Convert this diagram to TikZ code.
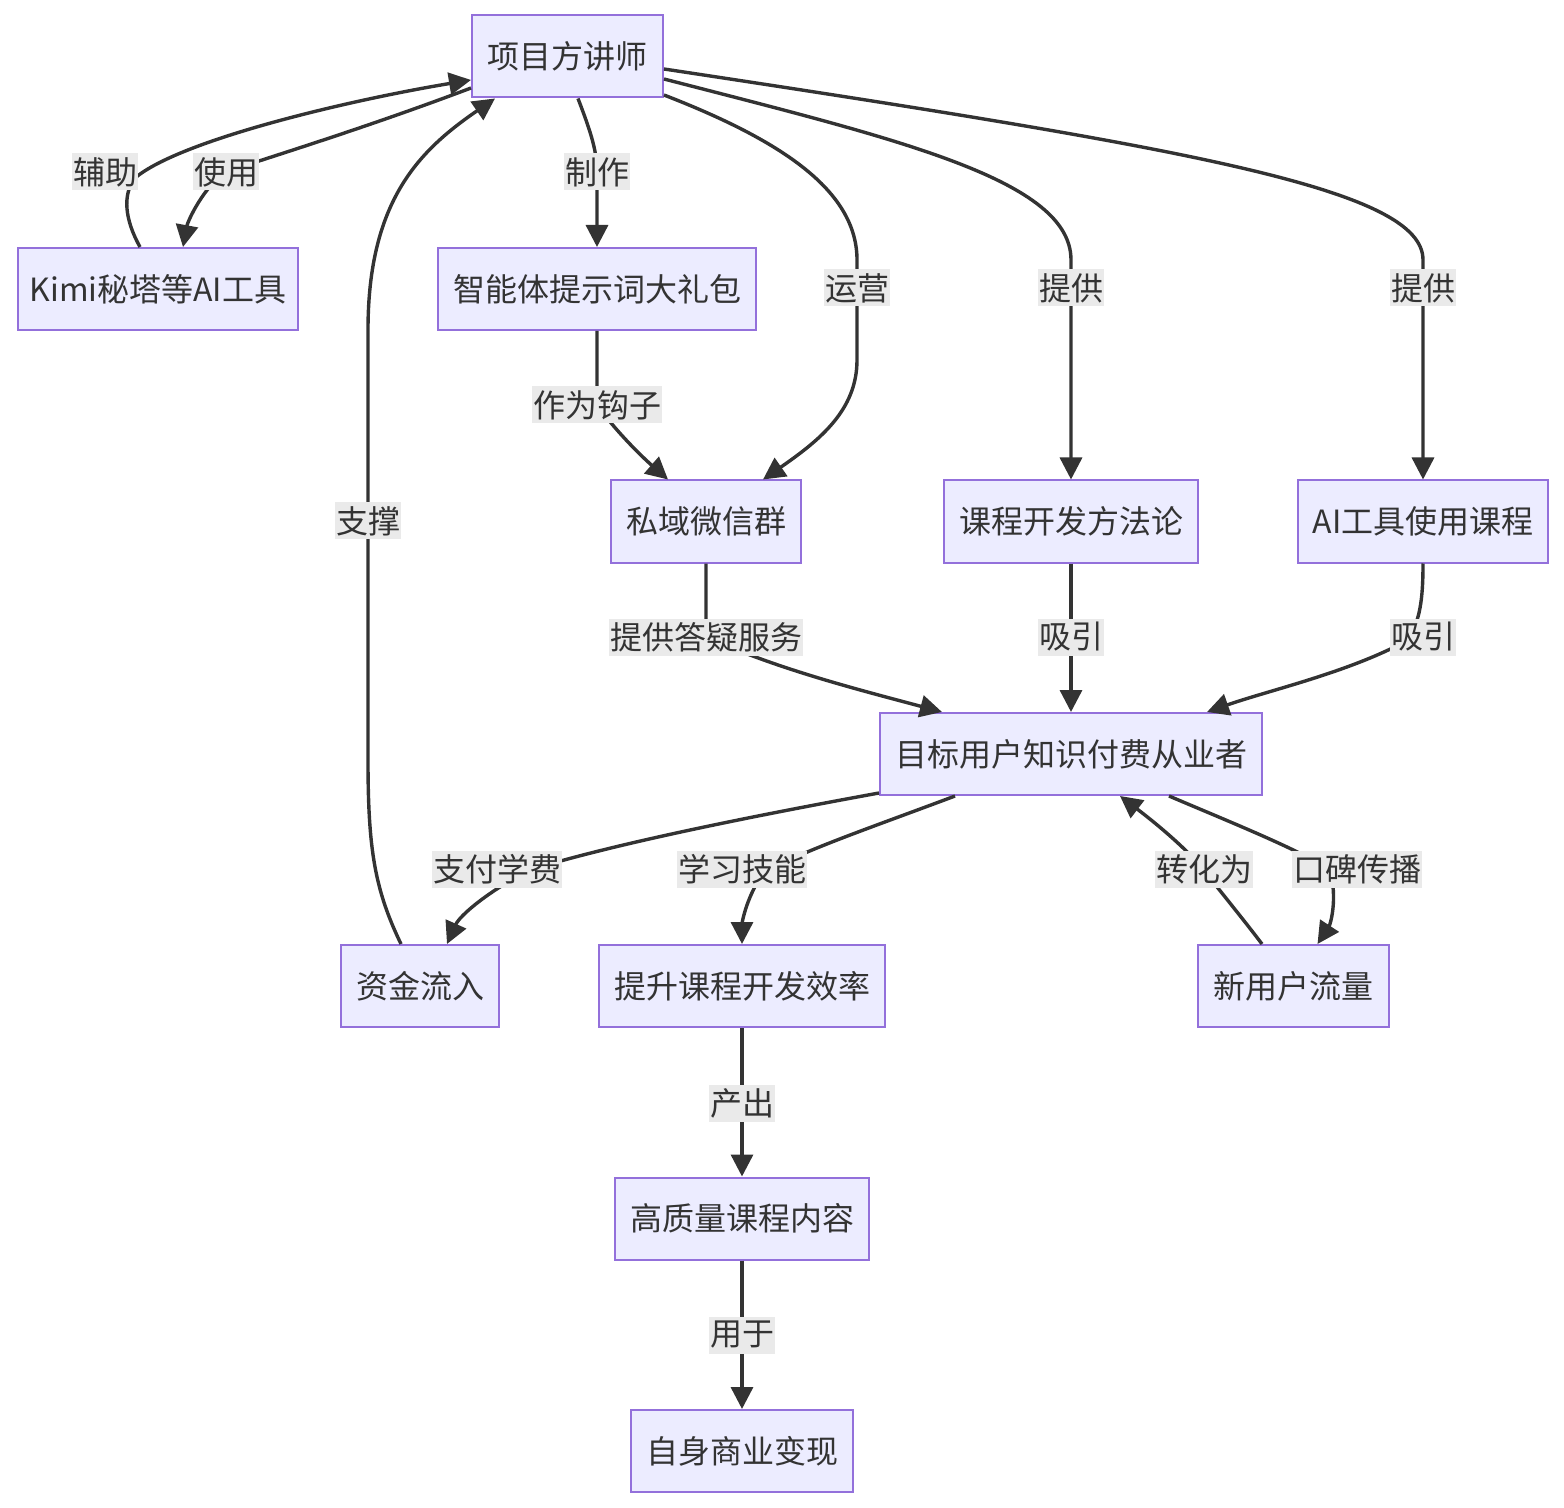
\documentclass[tikz,border=0pt]{standalone}
\usepackage{fontspec}
\setmainfont{Noto Sans CJK SC}
\usetikzlibrary{arrows.meta}
\definecolor{boxfill}{HTML}{ECECFF}
\definecolor{boxline}{HTML}{9370DB}
\definecolor{ink}{HTML}{333333}
\definecolor{lblbg}{HTML}{EAEAEA}

\begin{document}
\begin{tikzpicture}[x=0.5pt,y=-0.5pt,
  every node/.style={font=\fontsize{16}{19}\selectfont, text=ink},
  box/.style={draw=boxline, fill=boxfill, line width=1pt, minimum height=41pt, inner sep=0pt},
  lbl/.style={fill=lblbg, inner xsep=0.5pt, inner ysep=0pt, minimum height=18.5pt},
  flow/.style={draw=ink, line width=1.7pt, -{Triangle[length=11pt,width=11pt]}}]
\useasboundingbox (0,0) rectangle (1564,1508);
\node[box, minimum width=95.5pt] (lecturer) at (567.5,56.5) {项目方讲师};
\node[box, minimum width=140pt] (tools) at (158,289) {Kimi秘塔等AI工具};
\node[box, minimum width=159pt] (kit) at (597,289) {智能体提示词大礼包};
\node[box, minimum width=95pt] (group) at (706,521.5) {私域微信群};
\node[box, minimum width=127pt] (method) at (1071,521.5) {课程开发方法论};
\node[box, minimum width=125pt] (aicourse) at (1423,521.5) {AI工具使用课程};
\node[box, minimum width=191pt] (user) at (1071,754) {目标用户知识付费从业者};
\node[box, minimum width=79pt] (fund) at (420,986) {资金流入};
\node[box, minimum width=143pt] (skill) at (742,986) {提升课程开发效率};
\node[box, minimum width=95.5pt] (newuser) at (1293.5,986) {新用户流量};
\node[box, minimum width=127pt] (content) at (742,1218.5) {高质量课程内容};
\node[box, minimum width=111pt] (profit) at (742,1451) {自身商业变现};
% top part
\draw[flow] ([yshift=-15.75pt]lecturer.west) .. controls (360,130) and (260,160) .. (226,172)
  .. controls (205,185) and (188,220) .. ([xshift=12.5pt]tools.north);
\draw[flow] ([xshift=-9pt]tools.north) .. controls (125,220) and (122,195) .. (135,178)
  .. controls (180,140) and (350,100) .. ([yshift=-11.75pt]lecturer.west);
\draw[flow] ([xshift=-9.5pt]fund.north) .. controls (375,890) and (368,850) .. (368,760) -- (368,330)
  .. controls (368,200) and (420,150) .. ([xshift=-36.25pt]lecturer.south);
\draw[flow] ([xshift=5.25pt]lecturer.south) .. controls (590,130) and (597,150) .. (597,172) -- (kit.north);
\draw[flow] ([yshift=-19.25pt]lecturer.east) .. controls (780,140) and (857,190) .. (857,260) -- (857,360)
  .. controls (857,410) and (820,440) .. ([xshift=28.5pt]group.north);
\draw[flow] ([yshift=-11.25pt]lecturer.east) .. controls (900,140) and (1071,180) .. (1071,260) -- (method.north);
\draw[flow] ([yshift=-6.25pt]lecturer.east) .. controls (1200,150) and (1423,190) .. (1423,260) -- (aicourse.north);
% middle part
\draw[flow] (kit.south) .. controls (597,360) and (597,390) .. (597,405)
  .. controls (615,430) and (640,455) .. ([xshift=-19pt]group.north);
\draw[flow] (group.south) .. controls (706,590) and (706,615) .. (706,637)
  .. controls (780,670) and (860,690) .. ([xshift=-64.5pt]user.north);
\draw[flow] (method.south) -- (user.north);
\draw[flow] (aicourse.south) .. controls (1423,600) and (1420,620) .. (1408,640)
  .. controls (1350,672) and (1270,690) .. ([xshift=68pt]user.north);
% bottom part
\draw[flow] ([yshift=1.5pt]user.south west) .. controls (720,822) and (600,848) .. (530,870)
  .. controls (490,890) and (460,915) .. ([xshift=13.5pt]fund.north);
\draw[flow] ([xshift=-58pt]user.south) .. controls (870,828) and (790,855) .. (762,875)
  .. controls (745,900) and (742,925) .. (skill.north);
\draw[flow] ([xshift=-15.75pt]newuser.north) .. controls (1240,915) and (1215,885) .. (1200,865)
  .. controls (1175,838) and (1145,815) .. ([xshift=24.5pt]user.south);
\draw[flow] ([xshift=49pt]user.south) .. controls (1230,822) and (1300,850) .. (1330,870)
  .. controls (1338,900) and (1330,925) .. ([xshift=12pt]newuser.north);
\draw[flow] (skill.south) -- (content.north);
\draw[flow] (content.south) -- (profit.north);
% edge labels
\node[lbl] (lUse) at (226,172) {使用};
\node[lbl] (lAid) at (105,172) {辅助};
\node[lbl] (lBack) at (368,521) {支撑};
\node[lbl] (lMake) at (597,172) {制作};
\node[lbl] (lRun) at (857,288) {运营};
\node[lbl] (lGiveA) at (1071,288) {提供};
\node[lbl] (lGiveB) at (1423,288) {提供};
\node[lbl] (lHook) at (597,405) {作为钩子};
\node[lbl] (lQA) at (706,637) {提供答疑服务};
\node[lbl] (lPullA) at (1071,637) {吸引};
\node[lbl] (lPullB) at (1423,637) {吸引};
\node[lbl] (lPay) at (497,869) {支付学费};
\node[lbl] (lLearn) at (742,869) {学习技能};
\node[lbl] (lTurn) at (1204,869) {转化为};
\node[lbl] (lWord) at (1357,869) {口碑传播};
\node[lbl] (lMakeB) at (742,1103) {产出};
\node[lbl] (lFor) at (742,1335) {用于};
\end{tikzpicture}
\end{document}
